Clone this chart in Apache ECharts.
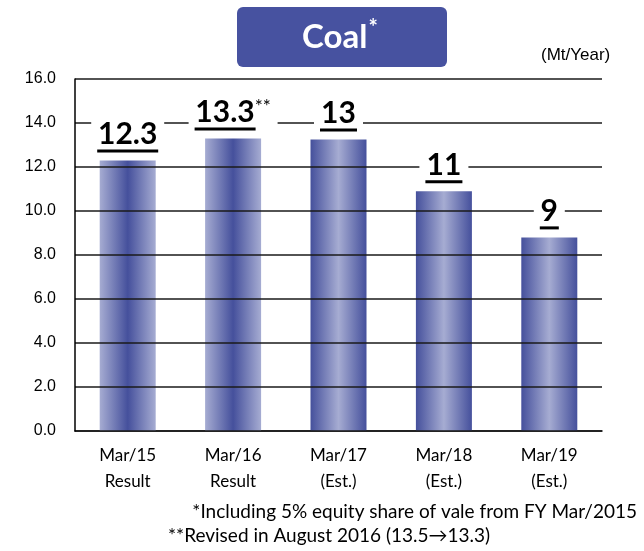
<!DOCTYPE html>
<html>
<head>
<meta charset="utf-8">
<script src="https://cdn.jsdelivr.net/npm/echarts@6/dist/echarts.min.js"></script>
<style>
  html, body { margin: 0; padding: 0; background: #fff; }
  #chart { width: 644px; height: 551px; }
</style>
</head>
<body>
<div id="chart"></div>
<script>
// data
const categories = ['Mar/15\nResult', 'Mar/16\nResult', 'Mar/17\n(Est.)', 'Mar/18\n(Est.)', 'Mar/19\n(Est.)'];
const volumes = [12.3, 13.3, 13.25, 10.9, 8.8];
const labelTexts = ['12.3', '13.3', '13', '11', '9'];
const labelMarks = ['', '**', '', '', ''];
const isResult = [true, true, false, false, false];
const yMin = 0, yMax = 16, yStep = 2;

const FONT = 'Lato';
const BAR_FONT = 30;
const MARK_FONT = 19;

// measure text so the underline fits the number
const ctx = document.createElement('canvas').getContext('2d');
function textW(t, size, weight) {
  ctx.font = (weight || 'normal') + ' ' + size + 'px ' + FONT;
  return Math.round(ctx.measureText(t).width);
}

const dark = '#45509c', light = '#a6acd2';
function barColor(result) {
  return {
    type: 'linear', x: 0, y: 0, x2: 1, y2: 0,
    colorStops: result
      ? [{ offset: 0, color: light }, { offset: 0.5, color: dark }, { offset: 1, color: light }]
      : [{ offset: 0, color: dark }, { offset: 0.5, color: light }, { offset: 1, color: dark }]
  };
}

const chart = echarts.init(document.getElementById('chart'));

const labelData = volumes.map((v, i) => {
  const uw = textW(labelTexts[i], BAR_FONT, 'bold') + 2;
  const mw = labelMarks[i] ? textW(labelMarks[i], MARK_FONT) : 0;
  let first = '{v|' + labelTexts[i] + '}' + (labelMarks[i] ? '{s|' + labelMarks[i] + '}' : '');
  let second = '{u' + i + '|}' + (labelMarks[i] ? '{g' + i + '|}' : '');
  const rich = {
    v: { fontFamily: FONT, fontWeight: 'bold', fontSize: BAR_FONT, color: '#000', lineHeight: 30 },
    s: { fontFamily: FONT, fontSize: MARK_FONT, color: '#000', verticalAlign: 'top', lineHeight: 30, padding: [0, 0, 12, 0] }
  };
  rich['u' + i] = { width: uw, height: 3, backgroundColor: '#000' };
  rich['g' + i] = { width: mw, height: 3 };
  return {
    value: v,
    label: { formatter: first + '\n' + second, rich: rich }
  };
});

chart.setOption({
  animation: false,
  grid: { left: 75, right: 42, top: 79, bottom: 120 },
  xAxis: {
    type: 'category',
    data: categories,
    axisLine: { lineStyle: { color: '#000', width: 1.5 } },
    axisTick: { inside: true, length: 6, lineStyle: { color: '#000', width: 1.5 } },
    axisLabel: { fontFamily: FONT, fontSize: 17, color: '#000', lineHeight: 26, margin: 12 }
  },
  yAxis: {
    type: 'value',
    min: yMin, max: yMax, interval: yStep,
    z: 3,
    axisLine: { show: true, lineStyle: { color: '#000', width: 1.5 } },
    axisTick: { show: false },
    splitLine: { lineStyle: { color: '#1a1a1a', width: 1.5 } },
    axisLabel: {
      fontFamily: 'Liberation Sans', fontSize: 16, color: '#000', margin: 19,
      formatter: v => v.toFixed(1)
    }
  },
  series: [
    {
      type: 'bar',
      z: 1,
      barWidth: 56,
      data: volumes.map((v, i) => ({ value: v, itemStyle: { color: barColor(isResult[i]) } })),
      silent: true
    },
    {
      type: 'bar',
      z: 5,
      barWidth: 56,
      barGap: '-100%',
      itemStyle: { color: 'transparent' },
      silent: true,
      label: {
        show: true,
        position: 'top',
        distance: 8,
        backgroundColor: '#fff',
        padding: [0, 6, 0, 6],
        align: 'center'
      },
      data: labelData
    }
  ],
  graphic: [
    {
      type: 'rect', left: 237, top: 7, z: 10,
      shape: { width: 210, height: 60, r: 6 },
      style: { fill: '#4752a0' }
    },
    {
      type: 'text', left: 302, top: 17, z: 11,
      style: {
        text: '{c|Coal}{a|*}',
        rich: {
          c: { fontFamily: FONT, fontWeight: 'bold', fontSize: 33, fill: '#fff', lineHeight: 40 },
          a: { fontFamily: FONT, fontWeight: 'bold', fontSize: 22, fill: '#fff', verticalAlign: 'top', lineHeight: 40, padding: [0, 0, 16, 1] }
        }
      }
    },
    {
      type: 'text', left: 541, top: 47, z: 11,
      style: { text: '(Mt/Year)', font: '17px "Liberation Sans"', fill: '#000' }
    },
    {
      type: 'text', right: 7, top: 502, z: 11,
      style: { text: '*Including 5% equity share of vale from FY Mar/2015', font: '19px ' + FONT, fill: '#000' }
    },
    {
      type: 'text', left: 168, top: 526, z: 11,
      style: { text: '**Revised in August 2016 (13.5\u219213.3)', font: '19px ' + FONT, fill: '#000' }
    }
  ]
});
</script>
</body>
</html>
